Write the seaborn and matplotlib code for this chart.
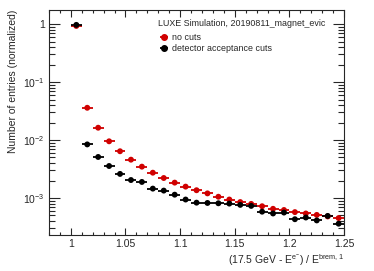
import numpy as np
import pandas as pd
import seaborn as sns
import matplotlib
matplotlib.use("Agg")
import matplotlib.pyplot as plt
from matplotlib.ticker import LogLocator, MultipleLocator, FixedLocator

# bin centres (bin width 0.01)
bin_centres = [1.005, 1.015, 1.025, 1.035, 1.045, 1.055, 1.065, 1.075, 1.085, 1.095,
               1.105, 1.115, 1.125, 1.135, 1.145, 1.155, 1.165, 1.175, 1.185, 1.195,
               1.205, 1.215, 1.225, 1.235, 1.245]
no_cuts = [0.93, 0.036, 0.0163, 0.0095, 0.0064, 0.00458, 0.00347, 0.00273, 0.00221, 0.00184,
           0.00157, 0.00136, 0.0012, 0.00105, 0.00094, 0.00085, 0.00079, 0.00072, 0.00065, 0.00062,
           0.00057, 0.00054, 0.00051, 0.00048, 0.00045]
acc_cuts = [0.97, 0.0084, 0.0051, 0.00356, 0.0026, 0.00204, 0.00189, 0.00145, 0.00134, 0.00114,
            0.00094, 0.00083, 0.00082, 0.00081, 0.0008, 0.00076, 0.00073, 0.00058, 0.00054, 0.00056,
            0.00043, 0.00046, 0.00041, 0.00049, 0.00036]
series_names = ["no cuts", "detector acceptance cuts"]
series_colors = ["#d00000", "black"]

df = pd.concat([
    pd.DataFrame({"x": bin_centres, "y": no_cuts, "sample": series_names[0]}),
    pd.DataFrame({"x": bin_centres, "y": acc_cuts, "sample": series_names[1]}),
])

sns.set_theme(style="ticks")
plt.rcParams["font.family"] = ["Liberation Sans", "DejaVu Sans"]
plt.rcParams["mathtext.default"] = "regular"

fig = plt.figure(figsize=(3.74, 2.71), dpi=100)
ax = fig.add_axes([0.131, 0.133, 0.789, 0.830])

for name, color in zip(series_names, series_colors):
    sub = df[df["sample"] == name]
    ax.errorbar(sub["x"], sub["y"], xerr=0.005, fmt="none", ecolor=color, elinewidth=1.3, zorder=2)
sns.scatterplot(data=df, x="x", y="y", hue="sample", palette=series_colors,
                s=18, linewidth=0, ax=ax, legend=False, zorder=3)

ax.set_yscale("log")
ax.set_xlim(0.98, 1.25)
ax.set_ylim(2.3e-4, 1.75)

ax.xaxis.set_major_locator(FixedLocator([1.0, 1.05, 1.1, 1.15, 1.2, 1.25]))
ax.set_xticklabels(["1", "1.05", "1.1", "1.15", "1.2", "1.25"])
ax.xaxis.set_minor_locator(MultipleLocator(0.01))
ax.yaxis.set_major_locator(FixedLocator([1e-3, 1e-2, 1e-1, 1]))
ax.set_yticklabels([r"$10^{-3}$", r"$10^{-2}$", r"$10^{-1}$", "1"])
ax.yaxis.set_minor_locator(LogLocator(base=10, subs=np.arange(2, 10)))
ax.yaxis.set_minor_formatter(plt.NullFormatter())

ax.tick_params(which="both", direction="in", top=True, right=True, labelsize=7.5, width=0.8, pad=3)
ax.tick_params(axis="x", which="major", length=5)
ax.tick_params(axis="x", which="minor", length=2.5)
ax.tick_params(axis="y", which="major", length=8)
ax.tick_params(axis="y", which="minor", length=4)
for s in ax.spines.values():
    s.set_linewidth(0.8)

ax.set_xlabel(r"(17.5 GeV - E$^{e^{-}}$) / E$^{brem,1}$", fontsize=7.5, loc="right", labelpad=2)
ax.set_ylabel("Number of entries (normalized)", fontsize=7.5, loc="top", labelpad=4)

# legend built by hand, ROOT style
ax.text(0.37, 0.938, "LUXE Simulation, 20190811_magnet_evic", transform=ax.transAxes,
        fontsize=6.4, va="center", ha="left")
for i, (name, color) in enumerate(zip(series_names, series_colors)):
    yy = 0.88 - i * 0.049
    ax.errorbar([0.39], [yy], xerr=0.013, fmt="o", color=color, ms=4, elinewidth=1.3,
                transform=ax.transAxes, clip_on=False)
    ax.text(0.417, yy, name, transform=ax.transAxes, fontsize=6.4, va="center", ha="left")

fig.savefig("out.png", dpi=100)
